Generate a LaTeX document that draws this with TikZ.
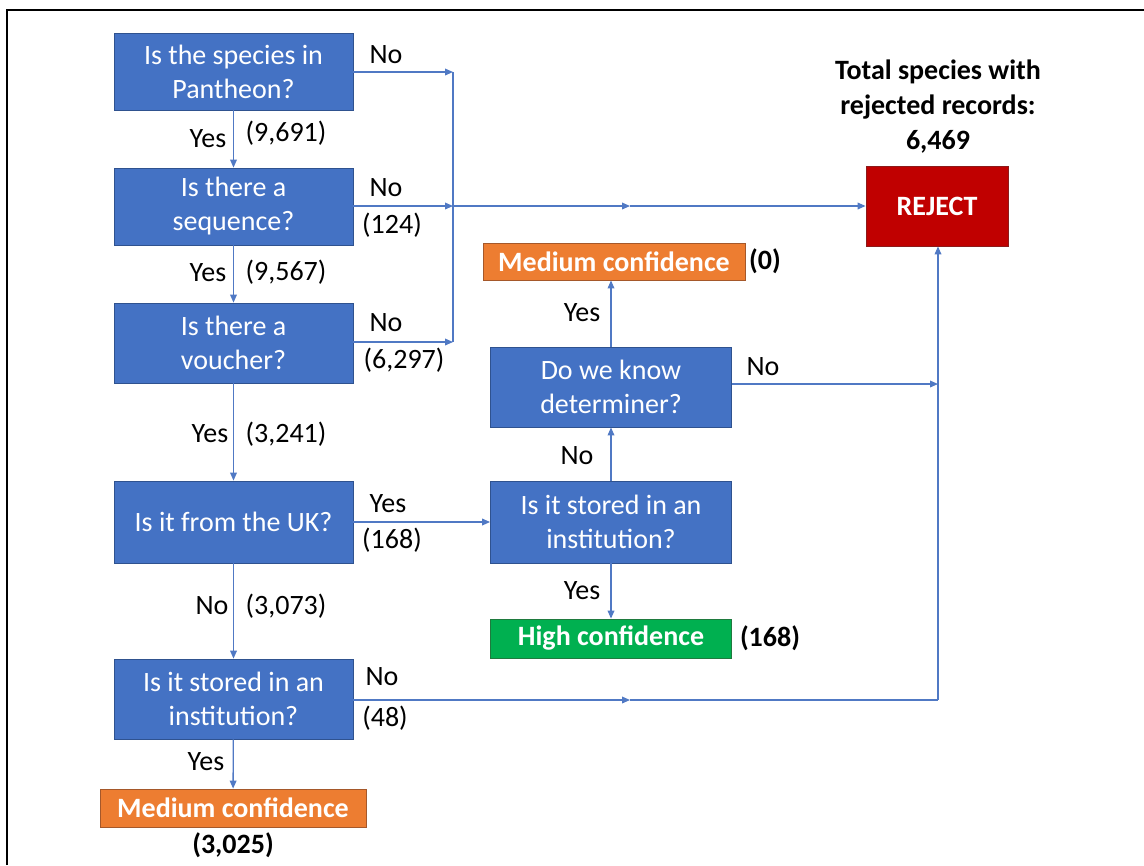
\documentclass[tikz,border=0pt]{standalone}
\usepackage{fontspec}
\setmainfont{Carlito}
\usetikzlibrary{arrows.meta}
\definecolor{qblue}{HTML}{4472C4}
\definecolor{qblueline}{HTML}{2F528F}
\definecolor{qorange}{HTML}{ED7D31}
\definecolor{qorangeline}{HTML}{A5582A}
\definecolor{qgreen}{HTML}{00B050}
\definecolor{qgreenline}{HTML}{1F7A3E}
\definecolor{qred}{HTML}{C00000}
\definecolor{qredline}{HTML}{8C1A1A}
\definecolor{qconn}{HTML}{5079C4}
\tikzset{
  base/.style={font=\fontsize{21pt}{25.5pt}\selectfont, inner sep=0pt, align=center},
  qbox/.style={base, fill=qblue, draw=qblueline, line width=0.6pt, text=white, minimum width=179.25pt},
  medbox/.style={base, font=\fontsize{21pt}{25.5pt}\selectfont\bfseries, fill=qorange, draw=qorangeline, line width=0.6pt, text=white},
  highbox/.style={base, font=\fontsize{21pt}{25.5pt}\selectfont\bfseries, fill=qgreen, draw=qgreenline, line width=0.6pt, text=white},
  rejbox/.style={base, font=\fontsize{21pt}{25.5pt}\selectfont\bfseries, fill=qred, draw=qredline, line width=0.6pt, text=white, minimum width=106.5pt, minimum height=60pt},
  lbl/.style={base, text=black},
  blbl/.style={base, font=\fontsize{21pt}{26.25pt}\selectfont\bfseries, text=black},
  conn/.style={draw=qconn, line width=1pt},
  arr/.style={conn, -{Triangle[length=6pt,width=5pt]}},
}
\begin{document}
\begin{tikzpicture}[x=0.75pt, y=-0.75pt]
\useasboundingbox (0,0) rectangle (1144,865);
\fill[white] (0,0) rectangle (1144,865);
\draw[line width=1.6pt, black] (7,865) -- (7,10) -- (1144,10);

% left column
\node[qbox, minimum height=57.75pt] (b1) at (233.5,71.5) {Is the species in\\Pantheon?};
\node[qbox, minimum height=57.75pt] (b2) at (233.5,206.5) {Is there a\\sequence?};
\node[qbox, minimum height=60pt] (b3) at (233.5,343) {Is there a\\voucher?};
\node[qbox, minimum height=61.5pt] (b4) at (233.5,522) {Is it from the UK?};
\node[qbox, minimum height=60pt] (b5) at (233.5,699) {Is it stored in an\\institution?};
\node[medbox, minimum width=199.5pt, minimum height=28.5pt] (medbot) at (233,808) {Medium confidence};

% middle column
\node[qbox, minimum width=180.75pt, minimum height=61.5pt] (inst) at (611,522) {Is it stored in an\\institution?};
\node[highbox, minimum width=180.75pt, minimum height=29.25pt] (high) at (611,638.5) {High confidence};
\node[qbox, minimum width=180.75pt, minimum height=60pt] (det) at (611,387) {Do we know\\determiner?};
\node[medbox, minimum width=196.5pt, minimum height=27.75pt] (medtop) at (614,261.5) {Medium confidence};

% reject
\node[rejbox] (rej) at (937,206) {REJECT};
\node[blbl] (title) at (938,107) {Total species with\\rejected records:\\6,469};

% coordinates
\coordinate (j1) at (453,72);
\coordinate (j2) at (453,206);
\coordinate (j3) at (453,342);
\coordinate (m2) at (630,206);
\coordinate (m5) at (630,700);
\coordinate (k5) at (938,700);
\coordinate (kd) at (938,384);

% connectors
\draw[arr] (b1) -- (b2);
\draw[arr] (b2) -- (b3);
\draw[arr] (b3) -- (b4);
\draw[arr] (b4) -- (b5);
\draw[arr] (b5) -- (medbot);
\draw[arr] (b1.east |- j1) -- (j1);
\draw[arr] (b2.east |- j2) -- (j2);
\draw[arr] (b3.east |- j3) -- (j3);
\draw[conn] (j1) -- (j3);
\draw[arr] (j2) -- (m2);
\draw[arr] (m2) -- (rej.west);
\draw[arr] (b4) -- (inst);
\draw[arr] (inst) -- (det);
\draw[arr] (det) -- (medtop.south -| det.north);
\draw[arr] (inst) -- (high.north -| inst.south);
\draw[arr] (det.east |- kd) -- (kd);
\draw[arr] (b5.east |- m5) -- (m5);
\draw[conn] (m5) -- (k5);
\draw[arr] (k5) -- (rej.south -| k5);

% labels
\node[lbl] (l1) at (386,55) {No};
\node[lbl] (l2) at (208,139) {Yes};
\node[lbl] (l3) at (286,133) {(9,691)};
\node[lbl] (l4) at (386,188) {No};
\node[lbl] (l5) at (392,225) {(124)};
\node[lbl] (l6) at (208,273) {Yes};
\node[lbl] (l7) at (286,272) {(9,567)};
\node[lbl] (l8) at (386,323) {No};
\node[lbl] (l9) at (404,360) {(6,297)};
\node[lbl] (l10) at (210,434) {Yes};
\node[lbl] (l11) at (286,434) {(3,241)};
\node[lbl] (l12) at (388,504) {Yes};
\node[lbl] (l13) at (392,540) {(168)};
\node[lbl] (l14) at (212,606) {No};
\node[lbl] (l15) at (286,606) {(3,073)};
\node[lbl] (l16) at (382,677) {No};
\node[lbl] (l17) at (385,718) {(48)};
\node[lbl] (l18) at (206,762) {Yes};
\node[blbl] (l19) at (233,845) {(3,025)};
\node[lbl] (l20) at (582,313) {Yes};
\node[lbl] (l21) at (577,456) {No};
\node[lbl] (l22) at (582,591) {Yes};
\node[lbl] (l23) at (763,367) {No};
\node[blbl] (l24) at (765,261) {(0)};
\node[blbl] (l25) at (770,638) {(168)};
\end{tikzpicture}
\end{document}
